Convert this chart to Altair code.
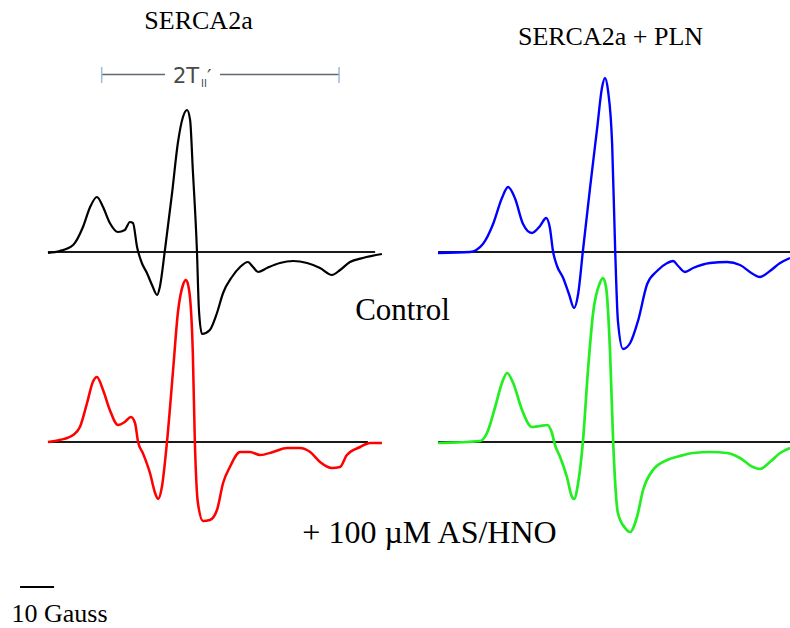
import altair as alt
import pandas as pd

# ---- EPR spectra: field position (G, from start of sweep) and signal (a.u.) ----
serca_ctrl_field = [0, 3.5, 7.4, 10.3, 12.4, 14.4, 16.2, 18.2, 20.6, 22.6, 24.1, 25.0, 26.2, 27.6,
                    29.1, 30.6, 32.1, 32.9, 34.4, 36.5, 38.2, 39.7, 40.9, 41.8, 42.6, 43.8, 44.4,
                    45.3, 47.6, 49.7, 51.5, 54.1, 56.5, 58.8, 60.3, 61.8, 64.4, 68.2, 72.1, 76.2,
                    80.0, 83.5, 85.9, 88.8, 92.6, 98.2]
serca_ctrl_signal = [-0.1, 0.1, 0.7, 2.5, 4.5, 5.5, 4.5, 2.9, 2.0, 2.2, 3.0, 2.9, 0.5, -1.1,
                     -2.1, -3.3, -4.3, -3.5, 0.2, 5.9, 10.9, 13.5, 14.2, 13.2, 8.2, 0.2, -5.8,
                     -8.2, -7.8, -6.1, -4.1, -2.5, -1.5, -1.0, -1.5, -2.0, -1.6, -1.1, -0.9, -1.1,
                     -1.6, -2.3, -1.8, -1.0, -0.6, -0.2]

pln_ctrl_field = [0, 9.4, 13.2, 16.2, 18.8, 20.6, 22.6, 25.0, 27.6, 30.0, 31.8, 32.9, 33.8, 35.0,
                  36.8, 38.5, 40.0, 41.2, 42.6, 44.7, 46.8, 48.2, 49.1, 50.0, 51.2, 52.1, 52.9,
                  54.4, 56.5, 58.8, 61.5, 64.4, 67.4, 69.1, 70.6, 72.6, 75.0, 80.0, 85.0, 88.8,
                  92.6, 94.7, 97.6, 100.6, 103.5]
pln_ctrl_signal = [-0.1, 0.0, 0.8, 2.8, 5.4, 6.5, 5.4, 2.8, 1.9, 2.6, 3.4, 2.4, 0.1, -1.4,
                   -2.6, -4.2, -5.6, -4.2, 0.1, 6.4, 12.4, 16.4, 17.4, 16.1, 10.8, 0.1, -6.9,
                   -9.7, -9.1, -6.9, -3.2, -1.9, -1.1, -0.9, -1.4, -2.0, -1.6, -1.1, -1.0, -1.3,
                   -2.2, -2.5, -1.9, -1.1, -0.6]

serca_hno_field = [0, 3.5, 7.4, 9.4, 11.5, 13.2, 14.4, 16.2, 18.2, 20.6, 22.6, 24.4, 25.6, 26.5,
                   27.9, 30.0, 31.5, 32.4, 33.5, 35.0, 36.8, 38.2, 39.7, 40.6, 41.5, 42.6, 43.2,
                   44.1, 45.6, 47.6, 49.7, 51.5, 53.5, 56.5, 59.4, 62.4, 66.2, 70.3, 74.1, 77.1,
                   80.0, 83.5, 85.9, 87.9, 91.8, 94.7, 98.2]
serca_hno_signal = [0.0, 0.2, 0.7, 1.5, 3.9, 6.0, 6.5, 5.2, 3.2, 1.7, 2.0, 2.5, 1.9, 0.0,
                    -1.1, -3.1, -5.1, -5.7, -4.5, 0.0, 7.2, 12.9, 15.7, 16.2, 15.2, 8.9, 0.0,
                    -6.1, -7.9, -7.8, -6.8, -4.1, -2.5, -1.0, -1.0, -1.3, -1.0, -0.6, -0.6, -1.0,
                    -2.0, -2.6, -2.5, -1.3, -0.5, -0.1, -0.1]

pln_hno_field = [0, 12.4, 14.4, 16.8, 18.8, 20.3, 22.1, 24.7, 27.6, 30.0, 32.1, 33.5, 34.4, 35.9,
                 37.9, 39.4, 40.0, 41.2, 42.6, 44.1, 45.6, 47.6, 48.5, 49.4, 50.6, 51.5, 52.9,
                 55.0, 56.5, 58.5, 60.3, 63.2, 67.4, 71.2, 75.0, 80.0, 85.0, 88.8, 92.6, 94.7,
                 97.6, 100.6, 103.5]
pln_hno_signal = [-0.1, 0.1, 0.9, 3.5, 5.9, 6.9, 5.9, 3.2, 1.5, 1.6, 1.7, 0.9, -0.3, -1.5,
                  -3.5, -5.5, -5.7, -4.1, 0.0, 7.2, 12.9, 15.9, 16.4, 15.5, 8.9, 0.0, -7.1,
                  -8.6, -9.0, -7.5, -4.8, -2.8, -1.8, -1.4, -1.1, -1.0, -1.1, -1.6, -2.5, -2.7,
                  -2.0, -1.1, -0.6]

# baseline extent of each spectrum (G)
baseline_end = {"serca_ctrl": 96.2, "pln_ctrl": 104.0, "serca_hno": 94.1, "pln_hno": 104.0}

# labels
col_titles = ["SERCA2a", "SERCA2a + PLN"]
row_labels = ["Control", "+ 100 µM AS/HNO"]
scale_bar_gauss = 10
scale_bar_label = "10 Gauss"
splitting_start, splitting_end = 15.8, 85.6   # 2T||' outer hyperfine extrema (G)

# ---- layout of the four spectra on a shared field/signal frame ----
RIGHT_SHIFT = 114.7     # G, horizontal shift of the +PLN column
TOP_SHIFT = 19.0        # a.u., vertical shift of the control row
X_DOMAIN = [-14.1, 218.2]
Y_DOMAIN = [-18.6, 44.2]

traces = {
    "serca_ctrl": (serca_ctrl_field, serca_ctrl_signal, 0.0, TOP_SHIFT),
    "pln_ctrl": (pln_ctrl_field, pln_ctrl_signal, RIGHT_SHIFT, TOP_SHIFT),
    "serca_hno": (serca_hno_field, serca_hno_signal, 0.0, 0.0),
    "pln_hno": (pln_hno_field, pln_hno_signal, RIGHT_SHIFT, 0.0),
}

rows, base_rows = [], []
for name, (f, s, dx, dy) in traces.items():
    for fi, si in zip(f, s):
        rows.append({"trace": name, "x": fi + dx, "y": si + dy})
    base_rows.append({"trace": name, "x": dx, "x2": dx + baseline_end[name], "y": dy})
spectra = pd.DataFrame(rows)
baselines = pd.DataFrame(base_rows)

x_scale = alt.Scale(domain=X_DOMAIN, nice=False, zero=False)
y_scale = alt.Scale(domain=Y_DOMAIN, nice=False, zero=False)
X = alt.X("x:Q", scale=x_scale, axis=None)
Y = alt.Y("y:Q", scale=y_scale, axis=None)

base_lines = alt.Chart(baselines).mark_rule(color="#1a1a1a", strokeWidth=2).encode(
    x=X, x2="x2:Q", y=Y
)

colors = alt.Scale(
    domain=["serca_ctrl", "pln_ctrl", "serca_hno", "pln_hno"],
    range=["#000000", "#0000ff", "#ff0000", "#22ee22"],
)
widths = alt.Scale(
    domain=["serca_ctrl", "pln_ctrl", "serca_hno", "pln_hno"],
    range=[2.2, 2.7, 2.7, 2.7],
)
lines = alt.Chart(spectra).mark_line(interpolate="monotone").encode(
    x=X,
    y=Y,
    color=alt.Color("trace:N", scale=colors, legend=None),
    strokeWidth=alt.StrokeWidth("trace:N", scale=widths, legend=None),
    detail="trace:N",
)

# 10 G scale bar
bar_df = pd.DataFrame({"x": [-8.2], "x2": [-8.2 + scale_bar_gauss]})
scale_bar = alt.Chart(bar_df).mark_rule(color="#000000", strokeWidth=2).encode(
    x=X, x2="x2:Q", y=alt.value(587)
)

# 2T||' bracket
br_df = pd.DataFrame({"x": [splitting_start, 50.6], "x2": [34.4, splitting_end]})
bracket = alt.Chart(br_df).mark_rule(color="#5f6770", strokeWidth=1.5).encode(
    x=X, x2="x2:Q", y=alt.value(74.5)
)
tick_df = pd.DataFrame({"x": [splitting_start, splitting_end]})
bracket_ticks = alt.Chart(tick_df).mark_rule(color="#9db9dc", strokeWidth=1.5).encode(
    x=X, y=alt.value(67), y2=alt.value(83)
)


def label(text, x, y, size, font="Liberation Serif", color="#000000", align="center"):
    return alt.Chart(pd.DataFrame({"t": [text]})).mark_text(
        font=font, fontSize=size, color=color, align=align, baseline="alphabetic"
    ).encode(x=alt.value(x), y=alt.value(y), text="t:N")


texts = [
    label(col_titles[0], 198.5, 29, 26),
    label(col_titles[1], 610.5, 45, 26),
    label(row_labels[0], 402.5, 320, 31),
    label(row_labels[1], 429.5, 543, 32),
    label(scale_bar_label, 59.5, 622, 26),
    label("2T", 173, 83, 21, font="DejaVu Sans", color="#4a4a4a", align="left"),
    label("II", 201, 87, 10, font="DejaVu Sans", color="#4a4a4a", align="left"),
    label("′", 207, 83, 20, font="DejaVu Sans", color="#4a4a4a", align="left"),
]

chart = alt.layer(base_lines, lines, scale_bar, bracket, bracket_ticks, *texts).properties(
    width=790, height=628, autosize=alt.AutoSizeParams(type="none"), padding=0
).configure_view(stroke=None)

chart.save("out.html", embed_options={"renderer": "svg", "actions": False})
